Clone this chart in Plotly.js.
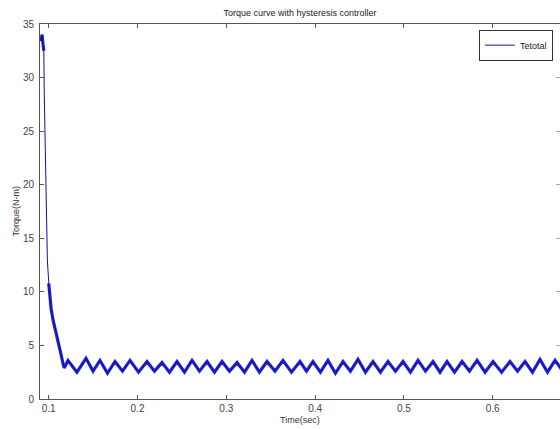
<!DOCTYPE html>
<html>
<head>
<meta charset="utf-8">
<script src="https://cdn.plot.ly/plotly-3.0.1.min.js"></script>
<style>
  html, body { margin: 0; padding: 0; background: #fff; }
  #chart { width: 560px; height: 429px; }
</style>
</head>
<body>
<div id="chart"></div>
<script>
// Start-up transient of the electromagnetic torque (s, N-m)
const startTime = [0.0913, 0.0919, 0.0925, 0.0931, 0.0936, 0.0941, 0.0945, 0.0950, 0.0955, 0.0958,
                   0.0964, 0.0970, 0.0977, 0.0985, 0.0992, 0.1000, 0.1011, 0.1028, 0.1048, 0.1066,
                   0.1086, 0.1105, 0.1124, 0.1143, 0.1161, 0.1175];
const startTorque = [33.4, 33.9, 34.0, 33.5, 33.2, 32.9, 32.5, 28.5, 26.0, 23.0,
                     20.0, 17.6, 15.0, 13.0, 12.0, 10.8, 9.5, 8.4, 7.4, 6.8,
                     6.2, 5.5, 4.9, 4.0, 3.3, 2.9];

// Steady-state ripple: crest and trough samples
const peakTime = [0.1217, 0.1420, 0.1578, 0.1747, 0.1916, 0.2107, 0.2276, 0.2445, 0.2614, 0.2783,
                  0.2952, 0.3121, 0.3289, 0.3458, 0.3638, 0.3830, 0.3976, 0.4145, 0.4314, 0.4483,
                  0.4652, 0.4821, 0.4990, 0.5159, 0.5328, 0.5486, 0.5655, 0.5824, 0.6004, 0.6195,
                  0.6364, 0.6533, 0.6702];
const peakTorque = [3.6, 3.8, 3.6, 3.5, 3.6, 3.5, 3.4, 3.5, 3.6, 3.5,
                    3.5, 3.4, 3.6, 3.5, 3.6, 3.5, 3.5, 3.6, 3.5, 3.7,
                    3.5, 3.5, 3.5, 3.6, 3.5, 3.5, 3.5, 3.6, 3.5, 3.5,
                    3.5, 3.7, 3.6];
const troughTime = [0.1318, 0.1499, 0.1662, 0.1831, 0.2011, 0.2191, 0.2360, 0.2529, 0.2698, 0.2867,
                    0.3036, 0.3205, 0.3373, 0.3548, 0.3734, 0.3903, 0.4060, 0.4229, 0.4398, 0.4567,
                    0.4736, 0.4905, 0.5074, 0.5243, 0.5407, 0.5570, 0.5739, 0.5914, 0.6100, 0.6280,
                    0.6448, 0.6617, 0.6790];
const troughTorque = [2.5, 2.6, 2.4, 2.6, 2.5, 2.6, 2.5, 2.5, 2.6, 2.5,
                      2.6, 2.5, 2.5, 2.6, 2.5, 2.6, 2.5, 2.4, 2.6, 2.5,
                      2.5, 2.6, 2.5, 2.6, 2.5, 2.5, 2.6, 2.5, 2.5, 2.6,
                      2.5, 2.5, 2.6];

const xTicks = [0.1, 0.2, 0.3, 0.4, 0.5, 0.6];
const yTicks = [0, 5, 10, 15, 20, 25, 30, 35];

// Assemble the full waveform
const t = startTime.slice();
const te = startTorque.slice();
for (let i = 0; i < peakTime.length; i++) {
  t.push(peakTime[i]); te.push(peakTorque[i]);
  t.push(troughTime[i]); te.push(troughTorque[i]);
}
// Switching noise band: thick where the curve is slow, gap on the steep drop
const band = te.map((v, i) => (t[i] > 0.0947 && t[i] < 0.1000) ? null : v);

const font = 'Liberation Sans, Arial, sans-serif';
const axisColor = '#555';

const traces = [
  { x: t, y: band, type: 'scatter', mode: 'lines', showlegend: false, hoverinfo: 'skip',
    connectgaps: false, line: { color: '#2424dc', width: 3.2 } },
  { x: t, y: te, type: 'scatter', mode: 'lines', name: 'Tetotal',
    line: { color: '#10109a', width: 1 } },
  // right-hand tick marks
  { x: [], y: [], yaxis: 'y2', showlegend: false, hoverinfo: 'skip' }
];

const layout = {
  width: 560, height: 429,
  margin: { l: 40, r: 0, t: 24, b: 30 },
  paper_bgcolor: '#fff', plot_bgcolor: '#fff',
  font: { family: font, size: 10, color: '#333' },
  title: { text: 'Torque curve with hysteresis controller', font: { family: font, size: 9, color: '#222' },
           x: 0.5, xref: 'paper', y: 1 - 13 / 429, yref: 'container', yanchor: 'middle' },
  xaxis: {
    range: [0.0902, 0.6758], tickvals: xTicks, ticktext: xTicks.map(v => v.toFixed(1)),
    ticks: 'inside', ticklen: 4, tickcolor: axisColor, showgrid: false, zeroline: false,
    showline: true, linecolor: axisColor, linewidth: 1, mirror: 'ticks', ticklabelstandoff: 0,
    tickfont: { family: font, size: 10, color: '#444' }
  },
  yaxis: {
    range: [0, 35], tickvals: yTicks, ticks: 'inside', ticklen: 4, tickcolor: axisColor,
    showgrid: false, zeroline: false, showline: true, linecolor: axisColor, linewidth: 1,
    ticklabelstandoff: 3, tickfont: { family: font, size: 10, color: '#444' }
  },
  yaxis2: {
    overlaying: 'y', side: 'right', range: [0, 35], tickvals: yTicks, ticks: 'inside', ticklen: 4,
    tickcolor: '#aaa', showticklabels: false, showgrid: false, zeroline: false, showline: false
  },
  legend: {
    x: 0.844, y: 0.985, xanchor: 'left', yanchor: 'top', bgcolor: '#fff',
    bordercolor: '#333', borderwidth: 1, font: { family: font, size: 9, color: '#222' },
    itemwidth: 30, tracegroupgap: 0
  },
  annotations: [
    { text: 'Time(sec)', xref: 'paper', yref: 'paper', x: 0.5, y: -0.056, xanchor: 'center',
      yanchor: 'middle', showarrow: false, font: { family: font, size: 9, color: '#333' } },
    { text: 'Torque(N-m)', xref: 'paper', yref: 'paper', x: -0.048, y: 0.5, textangle: -90,
      xanchor: 'center', yanchor: 'middle', showarrow: false, font: { family: font, size: 9, color: '#333' } }
  ],
  showlegend: true
};

Plotly.newPlot('chart', traces, layout, { displayModeBar: false, staticPlot: true });
</script>
</body>
</html>
